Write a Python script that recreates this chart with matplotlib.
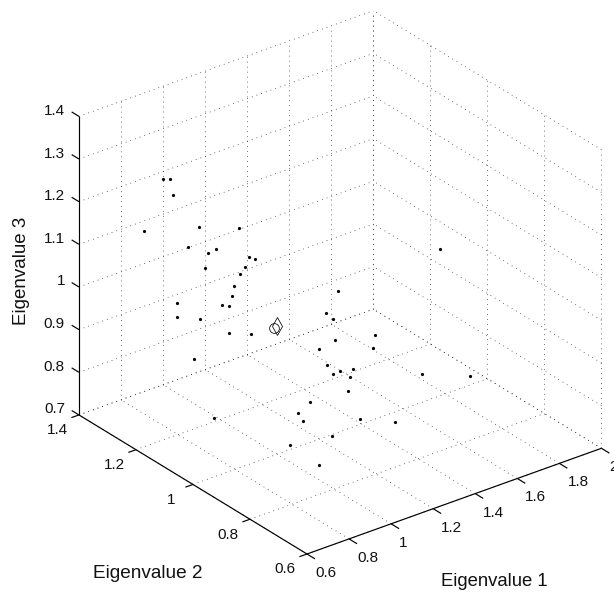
import matplotlib
matplotlib.use("Agg")
import matplotlib.pyplot as plt
from mpl_toolkits.mplot3d import proj3d

plt.rcParams['font.family'] = ['Liberation Sans', 'DejaVu Sans']

eig1_ticks = [0.6, 0.8, 1.0, 1.2, 1.4, 1.6, 1.8, 2.0]
eig2_ticks = [0.6, 0.8, 1.0, 1.2, 1.4]
eig3_ticks = [0.7, 0.8, 0.9, 1.0, 1.1, 1.2, 1.3, 1.4]
eig1_labels = ['0.6', '0.8', '1', '1.2', '1.4', '1.6', '1.8', '2']
eig2_labels = ['0.6', '0.8', '1', '1.2', '1.4']
eig3_labels = ['0.7', '0.8', '0.9', '1', '1.1', '1.2', '1.3', '1.4']

# depth along the view direction cannot be read from the picture: estimated
eig1 = [0.9] * 25 + [1.0] * 14 + [1.05] + [1.0] * 6 + [1.3, 1.5, 1.4]
eig2 = [1.326, 1.303, 1.292, 1.394, 1.200, 1.061, 1.240, 1.168, 1.142, 1.024,
        1.005, 1.039, 1.180, 1.055, 1.076, 1.086, 1.120, 1.094, 1.276, 1.276,
        1.196, 1.096, 1.019, 1.217, 1.148,
        0.787, 0.830, 0.805, 0.656, 0.662, 0.797, 0.852, 0.825, 0.780, 0.735,
        0.803, 0.746, 0.752, 0.709, 0.624, 0.883, 0.928, 0.908, 0.809, 0.953,
        0.853, 0.714, 0.691, 0.724]
eig3 = [1.230, 1.239, 1.207, 1.081, 1.168, 1.224, 1.105, 1.120, 1.140, 1.171,
        1.173, 1.142, 1.080, 1.117, 1.081, 1.053, 1.018, 1.026, 0.961, 0.927,
        0.955, 0.964, 0.993, 0.852, 0.742,
        1.169, 1.101, 1.096, 1.119, 1.086, 1.050, 1.006, 0.980, 0.986, 1.009,
        0.968, 0.985, 0.950, 0.901, 0.919, 0.870, 0.827, 0.816, 0.820, 0.741,
        0.735, 0.951, 0.921, 1.223]
circle_point = (0.99, 1.005, 0.995)
diamond_point = (1.0, 1.0, 1.0)

W, H = 614, 592
fig = plt.figure(figsize=(W / 100, H / 100), dpi=100)
ax = fig.add_axes([0.1, 0.1, 0.8, 0.8 * W / H], projection='3d', proj_type='ortho')
ax.computed_zorder = False
ax.set_axis_off()
ax.patch.set_visible(False)
x0, x1 = eig1_ticks[0], eig1_ticks[-1]
y0, y1 = eig2_ticks[0], eig2_ticks[-1]
z0, z1 = eig3_ticks[0], eig3_ticks[-1]
ax.set_xlim(x0, x1)
ax.set_ylim(y0, y1)
ax.set_zlim(z0, z1)
ax.set_box_aspect((371, 374.5, 337.7))
ax.view_init(elev=27.9, azim=-127.5)


def to_px(x, y, z):
    ax.apply_aspect()
    a, b, _ = proj3d.proj_transform(float(x), float(y), float(z), ax.get_proj())
    return ax.transData.transform((float(a), float(b)))


# fit the box to the reference's frame
span = to_px(x1, y0, z0)[0] - to_px(x0, y1, z0)[0]
side = 0.8 * W * (602 - 79.5) / span
ax.set_position([0.1, 0.1, side / W, side / H])
front = to_px(x0, y0, z0)
dx, dy = 307 - front[0], (H - 554) - front[1]
ax.set_position([0.1 + dx / W, 0.1 + dy / H, side / W, side / H])

dot = dict(color='#222222', lw=0.55, ls=(0, (1, 5.5)), zorder=1)
for x in eig1_ticks:
    ax.plot([x, x], [y0, y1], [z0, z0], **dot)
    ax.plot([x, x], [y1, y1], [z0, z1], **dot)
for y in eig2_ticks:
    ax.plot([x0, x1], [y, y], [z0, z0], **dot)
    ax.plot([x1, x1], [y, y], [z0, z1], **dot)
for z in eig3_ticks:
    ax.plot([x0, x1], [y1, y1], [z, z], **dot)
    ax.plot([x1, x1], [y0, y1], [z, z], **dot)

solid = dict(color='black', lw=0.85, zorder=2, solid_capstyle='butt')
ax.plot([x0, x0], [y1, y1], [z0, z1], **solid)
ax.plot([x0, x0], [y0, y1], [z0, z0], **solid)
ax.plot([x0, x1], [y0, y0], [z0, z0], **solid)
for z in eig3_ticks:
    ax.plot([x0, x0], [y1, y1 + 0.0255], [z, z], **solid)
for y in eig2_ticks:
    ax.plot([x0 - 0.036, x0], [y, y], [z0, z0], **solid)
for x in eig1_ticks:
    ax.plot([x, x], [y0 - 0.028, y0], [z0, z0], **solid)


def tick_text(point, off_x, off_down, s, ha):
    px, py = to_px(*point)
    fig.text((px + off_x) / W, (py - off_down) / H, s, ha=ha, va='center',
             fontsize=11, color='#111111')


for z, s in zip(eig3_ticks, eig3_labels):
    tick_text((x0, y1, z), -14, -5.5, s, 'right')
for y, s in zip(eig2_ticks, eig2_labels):
    tick_text((x0, y, z0), -22, 15.4, s, 'center')
for x, s in zip(eig1_ticks, eig1_labels):
    tick_text((x, y0, z0), 8, 19, s, 'left')

ax.plot(eig1, eig2, eig3, ls='none', marker='o', ms=2.3, color='black', mew=0, zorder=3)
ax.plot([circle_point[0]], [circle_point[1]], [circle_point[2]], ls='none', marker='o', ms=7,
        mfc='none', mec='black', mew=0.55, zorder=3)
ax.plot([diamond_point[0]], [diamond_point[1]], [diamond_point[2]], ls='none', marker='d', ms=9,
        mfc='none', mec='black', mew=0.55, zorder=3)

label_font = dict(color='#111111', ha='center', va='center')
fig.text(494.3 / W, 1 - 581 / H, 'Eigenvalue 1', fontsize=13.3, **label_font)
fig.text(147.7 / W, 1 - 573.3 / H, 'Eigenvalue 2', fontsize=13.7, **label_font)
fig.text(21.5 / W, 1 - 270.5 / H, 'Eigenvalue 3', rotation=90, fontsize=13.5, **label_font)

fig.savefig('out.png', dpi=100)
